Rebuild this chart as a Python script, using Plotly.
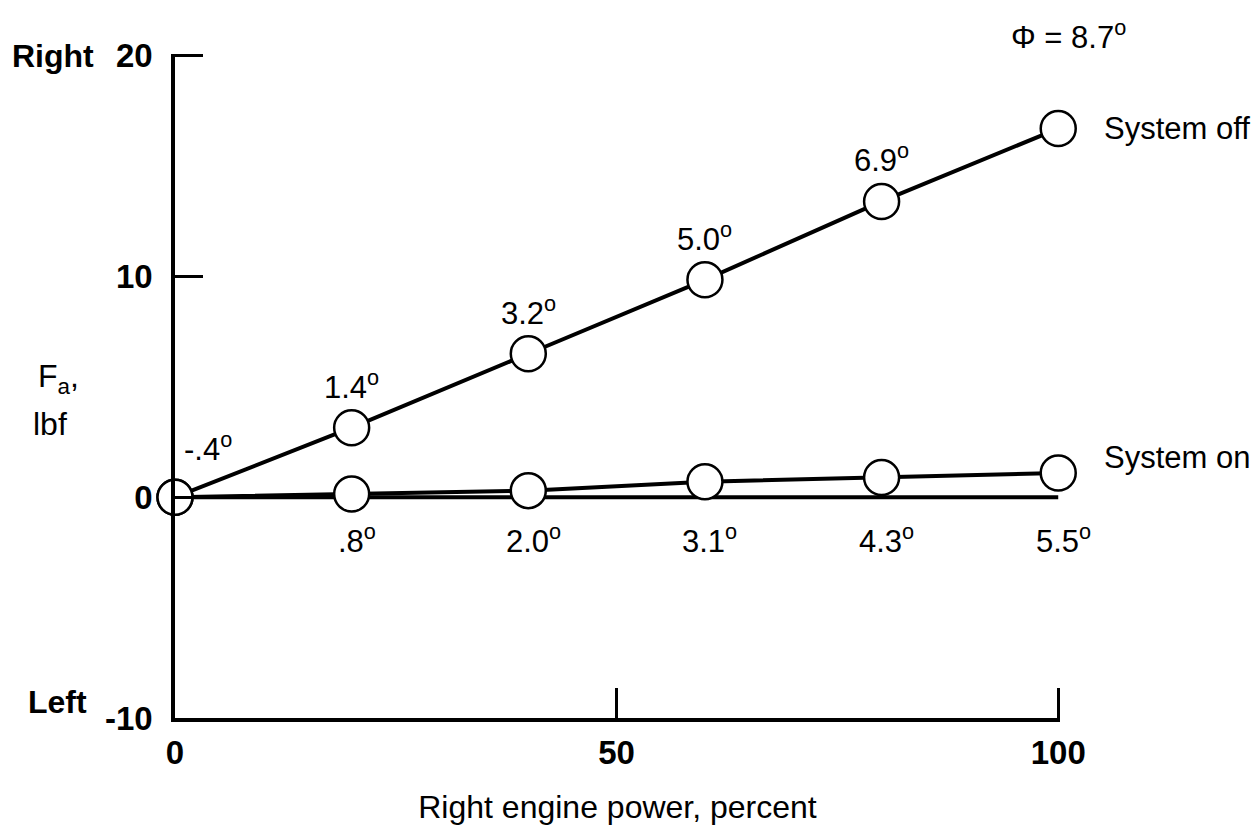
import plotly.graph_objects as go

# Right engine power settings (percent)
power = [0, 20, 40, 60, 80, 100]

# Aileron force F_a (lbf) with the system off and on
force_off = [0, 3.15, 6.5, 9.85, 13.4, 16.7]
force_on = [0, 0.15, 0.3, 0.7, 0.9, 1.1]

# Bank angle at each point, in degrees
phi_off = ["-.4", "1.4", "3.2", "5.0", "6.9", "\u03a6 = 8.7"]
phi_on = [".8", "2.0", "3.1", "4.3", "5.5"]

# Zero-force reference line
base_x = [0, 100]
base_y = [0, 0]

y_ticks = [-10, 0, 10, 20]
x_ticks = [0, 50, 100]

FONT = "Liberation Sans, Arial, sans-serif"
INK = "#000000"

fig = go.Figure()

fig.add_trace(go.Scatter(
    x=base_x, y=base_y, mode="lines",
    line=dict(color=INK, width=4), cliponaxis=False, hoverinfo="skip",
))

marker = dict(symbol="circle", size=35, color="white", line=dict(color=INK, width=2.5))

fig.add_trace(go.Scatter(
    x=power, y=force_on, mode="lines+markers", name="System on",
    line=dict(color=INK, width=4), marker=marker, cliponaxis=False,
))
fig.add_trace(go.Scatter(
    x=power, y=force_off, mode="lines+markers", name="System off",
    line=dict(color=INK, width=4), marker=marker, cliponaxis=False,
))

ann = []
deg = "<sup>o</sup>"

# Bank-angle labels above the system-off points
for i, (x, y, t) in enumerate(zip(power, force_off, phi_off)):
    if i == 0:
        ann.append(dict(x=x, y=y, text=t + deg, xshift=33, yshift=50))
    elif i == len(power) - 1:
        ann.append(dict(x=x, y=y, text=t + deg, xshift=10, yshift=94))
    else:
        ann.append(dict(x=x, y=y, text=t + deg, yshift=43))

# Bank-angle labels below the system-on points
for x, t in zip(power[1:], phi_on):
    ann.append(dict(x=x, y=0, text=t + deg, xshift=5, yshift=-42))

# Curve names
ann.append(dict(x=power[-1], y=force_off[-1], text="System off", xanchor="left", xshift=44))
ann.append(dict(x=power[-1], y=force_on[-1], text="System on", xanchor="left", xshift=44, yshift=15))

for a in ann:
    a.setdefault("xanchor", "center")
    a.update(xref="x", yref="y", showarrow=False, font=dict(family=FONT, size=31, color=INK))

# Axis side labels
side = dict(xref="paper", yref="y", showarrow=False, xanchor="left",
            font=dict(family=FONT, size=32, color=INK, weight="bold"))
ann.append(dict(side, x=-0.1864, y=20, text="Right"))
ann.append(dict(side, x=-0.168, y=-10, yshift=16, text="Left"))
ann.append(dict(xref="paper", yref="y", showarrow=False, xanchor="center",
                x=-0.132, y=5.4, text="F<sub>a</sub>,",
                font=dict(family=FONT, size=32, color=INK)))
ann.append(dict(xref="paper", yref="y", showarrow=False, xanchor="center",
                x=-0.141, y=3.3, text="lbf",
                font=dict(family=FONT, size=32, color=INK)))

fig.update_layout(
    width=1258, height=833,
    margin=dict(l=175, r=198, t=54, b=115),
    paper_bgcolor="white", plot_bgcolor="white",
    showlegend=False,
    annotations=ann,
    xaxis=dict(
        # small headroom past 100 so the end tick is still drawn
        range=[0, 100.2], tickvals=x_ticks, ticktext=[str(v) for v in x_ticks],
        showline=True, linecolor=INK, linewidth=3.5,
        ticks="inside", ticklen=30, tickwidth=2.5, tickcolor=INK,
        showgrid=False, zeroline=False, automargin=False,
        tickfont=dict(family=FONT, size=33, color=INK, weight="bold"),
        ticklabelstandoff=3,
        title=dict(text="Right engine power, percent", standoff=26,
                   font=dict(family=FONT, size=32, color=INK)),
    ),
    yaxis=dict(
        range=[-10, 20.08], tickvals=y_ticks, ticktext=[str(v) for v in y_ticks],
        showline=True, linecolor=INK, linewidth=3.5,
        ticks="inside", ticklen=28, tickwidth=2.5, tickcolor=INK,
        showgrid=False, zeroline=False, automargin=False,
        tickfont=dict(family=FONT, size=33, color=INK, weight="bold"),
        ticklabelstandoff=12,
    ),
)

fig.write_html("out.html")
